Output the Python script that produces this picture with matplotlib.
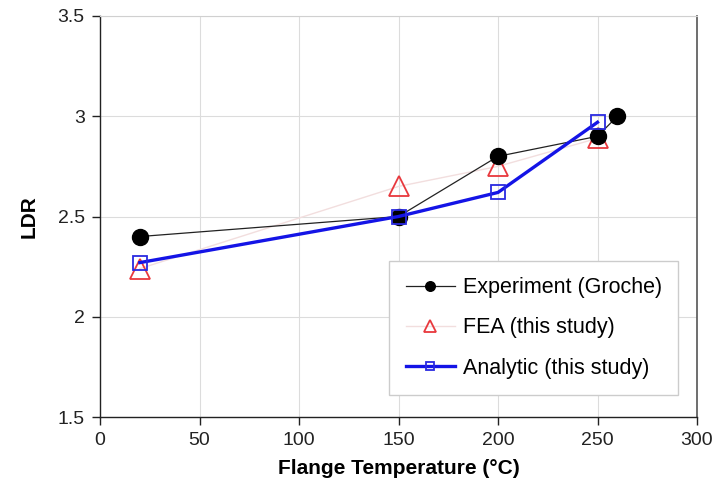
import matplotlib
matplotlib.use("Agg")
import matplotlib.pyplot as plt

plt.rcParams['font.family'] = ['Liberation Sans', 'DejaVu Sans']

exp_t = [20, 150, 200, 250, 260]
exp_ldr = [2.40, 2.50, 2.80, 2.90, 3.00]

fea_t = [20, 150, 200, 250]
fea_ldr = [2.24, 2.65, 2.75, 2.89]

ana_t = [20, 150, 200, 250]
ana_ldr = [2.27, 2.50, 2.62, 2.97]

x_ticks = [0, 50, 100, 150, 200, 250, 300]
y_ticks = [1.5, 2, 2.5, 3, 3.5]
y_tick_labels = ['1.5', '2', '2.5', '3', '3.5']

fig = plt.figure(figsize=(7.19, 4.95), dpi=100)
ax = fig.add_axes([100 / 719, 78 / 495, 597 / 719, 401 / 495])

ax.plot(fea_t, fea_ldr, color='#f2dede', lw=1.0, marker='^', ms=15,
        mfc='none', mec='#e8383d', mew=1.3, label='FEA (this study)', zorder=3)
ax.plot(exp_t, exp_ldr, color='#222222', lw=0.9, marker='o', ms=11.5,
        mfc='black', mec='black', label='Experiment (Groche)', zorder=4)
ax.plot(ana_t, ana_ldr, color='#1414e6', lw=2.4, marker='s', ms=10,
        mfc='none', mec='#2a2ae0', mew=1.3, label='Analytic (this study)', zorder=5)

ax.set_xlim(0, 300)
ax.set_ylim(1.5, 3.5)
ax.set_xticks(x_ticks)
ax.set_yticks(y_ticks)
ax.set_yticklabels(y_tick_labels)
ax.grid(True, color='#dcdcdc', lw=0.8)
ax.set_axisbelow(True)
ax.tick_params(direction='out', length=6, width=1, labelsize=14, colors='#222222', pad=5)

for side in ['left', 'bottom']:
    ax.spines[side].set_color('#222222')
    ax.spines[side].set_linewidth(1.0)
ax.spines['right'].set_color('#555555')
ax.spines['right'].set_linewidth(1.2)
ax.spines['top'].set_color('#d0d0d0')
ax.spines['top'].set_linewidth(0.8)

ax.set_xlabel('Flange Temperature (°C)', fontsize=15, fontweight='bold', labelpad=7)
ax.set_ylabel('LDR', fontsize=15, fontweight='bold', labelpad=14)

handles, labels = ax.get_legend_handles_labels()
order = [1, 0, 2]
leg = ax.legend([handles[i] for i in order], [labels[i] for i in order],
                loc='lower right', bbox_to_anchor=(0.968, 0.055), fontsize=15.5,
                markerscale=0.6, fancybox=False, framealpha=1, edgecolor='#cccccc',
                handlelength=2.3, handletextpad=0.35, labelspacing=0.9,
                borderpad=0.75, borderaxespad=0)
leg.get_frame().set_linewidth(1.0)

fig.savefig('out.png', dpi=100, facecolor='white')
